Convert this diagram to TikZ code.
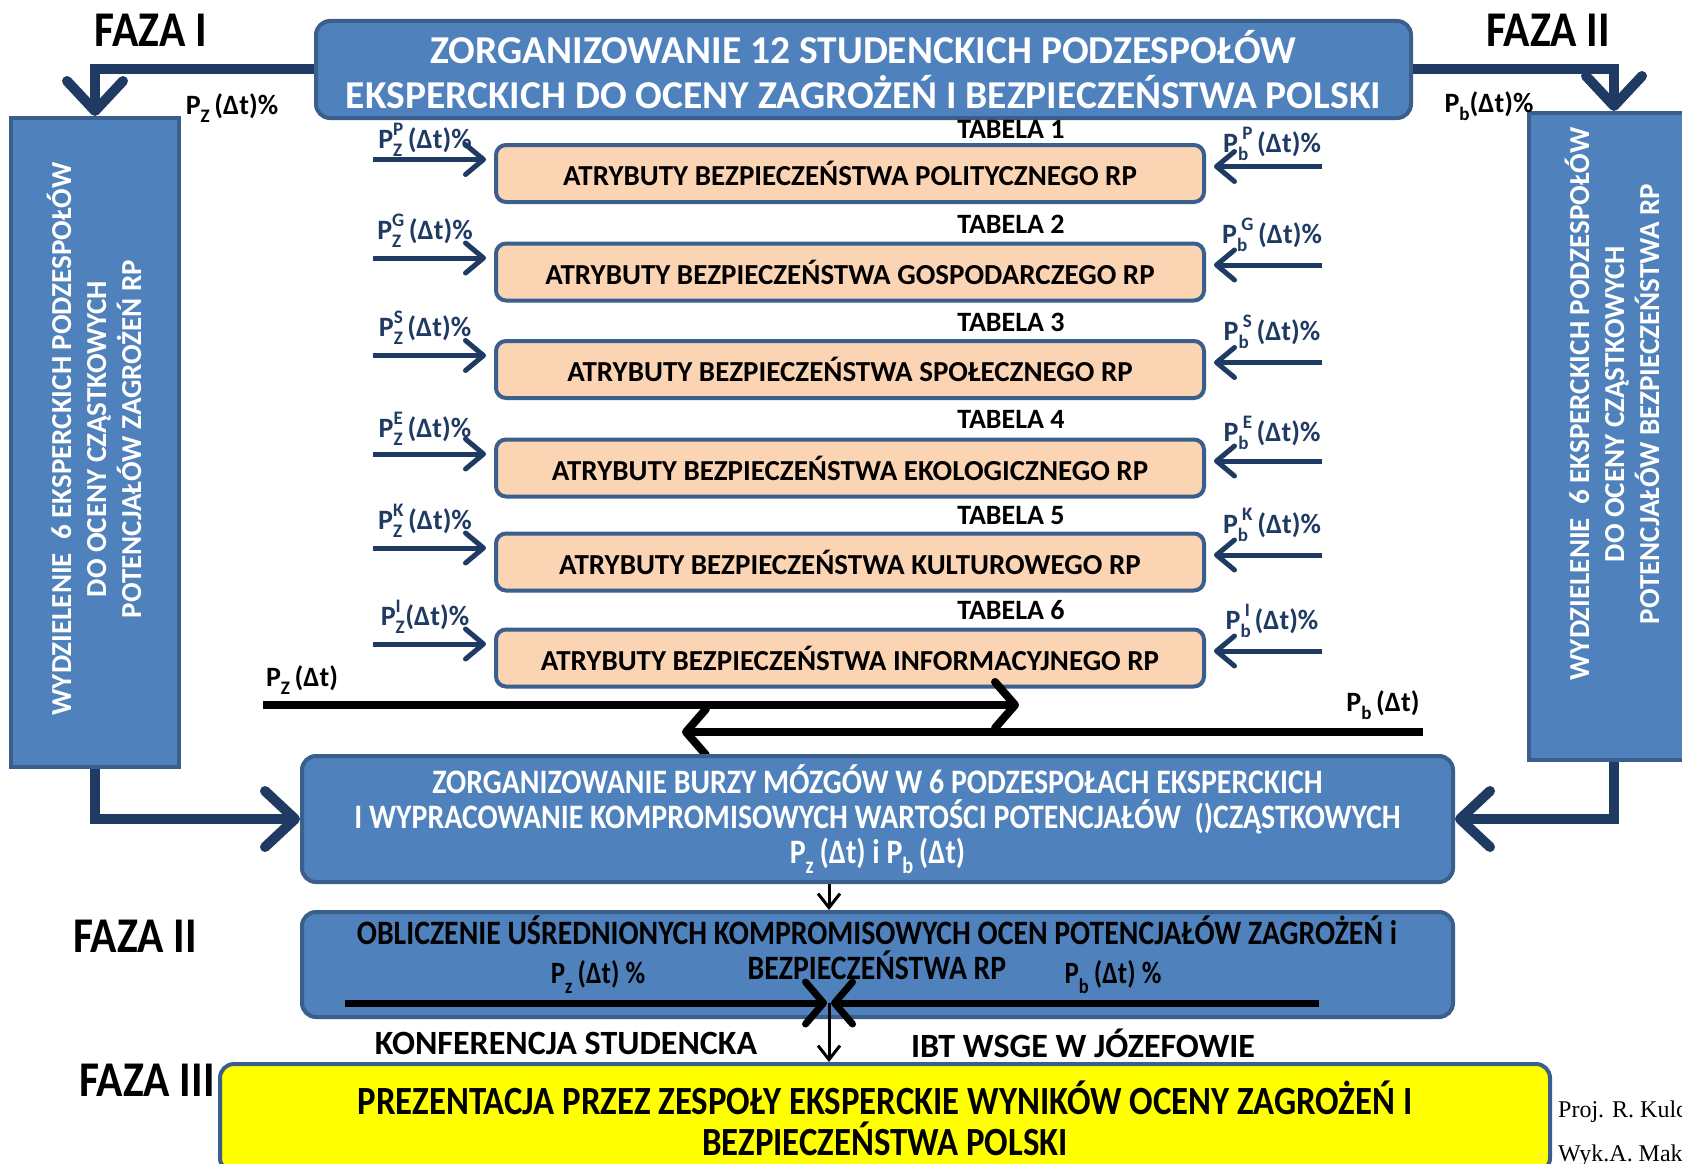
\documentclass[tikz,border=0pt]{standalone}
\usepackage{fontspec}
\setmainfont{Carlito}
\newfontfamily\condf{Carlito}[FakeStretch=0.87]
\newfontfamily\timesf{Liberation Serif}
\usetikzlibrary{arrows.meta}
\definecolor{blueA}{HTML}{4F81BD}
\definecolor{bordA}{HTML}{3A5F8C}
\definecolor{navyA}{HTML}{1F3A63}
\definecolor{peachA}{HTML}{FBD4B4}
\definecolor{yelA}{HTML}{FFFF00}
\newcommand{\zsub}[1]{\raisebox{-0.3em}{\scalebox{0.68}{#1}}}
\newcommand{\zss}[2]{\rlap{\raisebox{-0.3em}{\scalebox{0.68}{#1}}}\raisebox{0.45em}{\scalebox{0.68}{#2}}}
\begin{document}
\begin{tikzpicture}[x=1pt,y=-1pt,
  bluebox/.style={draw=bordA, line width=4, fill=blueA, rounded corners=14, inner sep=0},
  vboxs/.style={draw=bordA, line width=4, fill=blueA, inner sep=0},
  peachbox/.style={draw=bordA, line width=4, fill=peachA, rounded corners=10, inner sep=0,
     minimum width=708, minimum height=57, font=\bfseries\fontsize{29}{35}\selectfont},
  tabl/.style={inner sep=0, font=\bfseries\fontsize{28}{33}\selectfont},
  navylbl/.style={inner sep=0, text=navyA, font=\bfseries\fontsize{28}{32}\selectfont},
  blklbl/.style={inner sep=0, text=black, font=\bfseries\fontsize{28}{32}\selectfont},
  fazalbl/.style={inner sep=0, text=black, font=\condf\bfseries\fontsize{50}{56}\selectfont},
  vtext/.style={inner sep=0, text=white, rotate=90, align=center, font=\bfseries\fontsize{29}{35}\selectfont},
  navyarr/.style={draw=navyA, line width=10, -{Straight Barb[length=30pt,width=56pt,round]}},
  navythin/.style={draw=navyA, line width=5, -{Straight Barb[length=18pt,width=30pt,round]}},
  blackarr/.style={draw=black, line width=8, -{Straight Barb[length=20pt,width=46pt,round]}},
  calcarr/.style={draw=black, line width=7, -{Straight Barb[length=18pt,width=42pt,round]}},
  thinblk/.style={draw=black, line width=3, -{Straight Barb[length=14pt,width=22pt]}}
]
\useasboundingbox (0,0) rectangle (1682,1164);
\clip (0,0) rectangle (1682,1164);
\fill[white] (0,0) rectangle (1682,1164);

% phase labels
\node[fazalbl] (faza1) at (151,30) {FAZA I};
\node[fazalbl] (faza2t) at (1548,30) {FAZA II};
\node[fazalbl] (faza2l) at (135,936) {FAZA II};
\node[fazalbl] (faza3) at (147,1080) {FAZA III};

% top box
\node[bluebox, minimum width=1095, minimum height=97, text=white, align=center,
  font=\bfseries\fontsize{39.5}{45}\selectfont] (top) at (863.5,69.5)
  {ZORGANIZOWANIE 12 STUDENCKICH PODZESPOŁÓW\\EKSPERCKICH DO OCENY ZAGROŻEŃ I BEZPIECZEŃSTWA POLSKI};

% side boxes
\node[vboxs, minimum width=168, minimum height=649] (lbox) at (95,442.5) {};
\node[vtext] (ltext) at (94,439) {WYDZIELENIE\ \ 6 EKSPERCKICH PODZESPOŁÓW\\DO OCENY CZĄSTKOWYCH\\POTENCJAŁÓW ZAGROŻEŃ RP};
\node[vboxs, minimum width=170, minimum height=647] (rbox) at (1614,436.5) {};
\node[vtext] (rtext) at (1612,404) {WYDZIELENIE\ \ 6 EKSPERCKICH PODZESPOŁÓW\\DO OCENY CZĄSTKOWYCH\\POTENCJAŁÓW BEZPIECZEŃSTWA RP};

\node[blklbl] (pzt) at (232,108) {P\zsub{Z}\,(Δt)\%};
\node[blklbl] (pbt) at (1489,106) {P\zsub{b}(Δt)\%};

\draw[navyarr] (top.west) -| (lbox.north);
\draw[navyarr] (top.east) -| (rbox.north);

% tables
\foreach \i/\y/\ty/\ly/\txt/\s in {1/173.5/129/140/POLITYCZNEGO/P, 2/272/224/231/GOSPODARCZEGO/G, 3/369.5/322/328/SPOŁECZNEGO/S, 4/468/419/429/EKOLOGICZNEGO/E, 5/562/516/521/KULTUROWEGO/K, 6/658/610/617/INFORMACYJNEGO/I}{
  \node[peachbox] (tab\i) at (850,\y) {ATRYBUTY BEZPIECZEŃSTWA \txt\ RP};
  \node[tabl] (tabl\i) at (1011,\ty) {TABELA \i};
  \coordinate (lz\i) at (373,\y-14);
  \coordinate (rb\i) at (1322,\y-7);
  \draw[navythin] (lz\i) -- ([xshift=-8pt]tab\i.west |- lz\i);
  \draw[navythin] (rb\i) -- ([xshift=8pt]tab\i.east |- rb\i);
  \node[navylbl] (lzl\i) at (425,\ly) {P\zss{Z}{\s}\,(Δt)\%};
  \node[navylbl] (rbl\i) at (1272,\ly+4) {P\zss{b}{\ \s}\,(Δt)\%};
}

% big black arrows
\coordinate (pzs) at (263,705);
\coordinate (pze) at (1019,705);
\draw[blackarr] (pzs) -- (pze);
\node[blklbl] (pzl) at (302,680) {P\zsub{Z}\,(Δt)};
\coordinate (pbs) at (1423,732);
\coordinate (pbe) at (682,732);
\draw[blackarr] (pbs) -- (pbe);
\node[blklbl] (pbl) at (1383,705) {P\zsub{b}\,(Δt)};

% brainstorm box
\node[bluebox, minimum width=1151, minimum height=126, text=white, align=center,
  font=\condf\bfseries\fontsize{34.3}{35}\selectfont] (burza) at (877.5,819)
  {ZORGANIZOWANIE BURZY MÓZGÓW W 6 PODZESPOŁACH EKSPERCKICH\\I WYPRACOWANIE KOMPROMISOWYCH WARTOŚCI POTENCJAŁÓW\ \ ()CZĄSTKOWYCH\\P\zsub{z}\,(Δt) i P\zsub{b}\,(Δt)};

\draw[navyarr] (lbox.south) |- (burza.west);
\draw[navyarr] (rbox.south) |- (burza.east);

% calculation box
\node[bluebox, minimum width=1151, minimum height=105] (calc) at (877.5,964.5) {};
\node[inner sep=0, align=center, font=\condf\bfseries\fontsize{34.2}{35}\selectfont] (calct) at (877,947.5)
  {OBLICZENIE UŚREDNIONYCH KOMPROMISOWYCH OCEN POTENCJAŁÓW ZAGROŻEŃ i\\BEZPIECZEŃSTWA RP};
\coordinate (meet) at (829,1003);
\draw[thinblk] (burza.south -| meet) -- (calc.north -| meet);
\node[blklbl, font=\condf\bfseries\fontsize{31}{34}\selectfont] (czl) at (598,977) {P\zsub{z}\,(Δt) \%};
\node[blklbl, font=\condf\bfseries\fontsize{31}{34}\selectfont] (cbl) at (1113,977) {P\zsub{b}\,(Δt) \%};
\coordinate (czs) at (345,1003);
\coordinate (cbs) at (1319,1003);
\draw[calcarr] (czs) -- ([xshift=-2pt]meet);
\draw[calcarr] (cbs) -- ([xshift=2pt]meet);

% conference line
\node[inner sep=0, font=\bfseries\fontsize{34}{38}\selectfont] (konf) at (566,1043) {KONFERENCJA STUDENCKA};
\node[inner sep=0, font=\bfseries\fontsize{34}{38}\selectfont] (ibt) at (1083,1043) {IBT WSGE W JÓZEFOWIE};

% final box
\node[bluebox, fill=yelA, minimum width=1330, minimum height=108, align=center,
  font=\condf\bfseries\fontsize{40}{41}\selectfont] (ybox) at (885,1118)
  {PREZENTACJA PRZEZ ZESPOŁY EKSPERCKIE WYNIKÓW OCENY ZAGROŻEŃ I\\BEZPIECZEŃSTWA POLSKI};
\draw[thinblk] (meet) -- (meet |- ybox.north);

% credits
\node[anchor=west, inner sep=0, font=\timesf\fontsize{24}{28}\selectfont] (proj) at (1558,1112) {Proj. R. Kulc};
\node[anchor=west, inner sep=0, font=\timesf\fontsize{24}{28}\selectfont] (wyk) at (1558,1156) {Wyk.A. Mak};
\end{tikzpicture}
\end{document}
